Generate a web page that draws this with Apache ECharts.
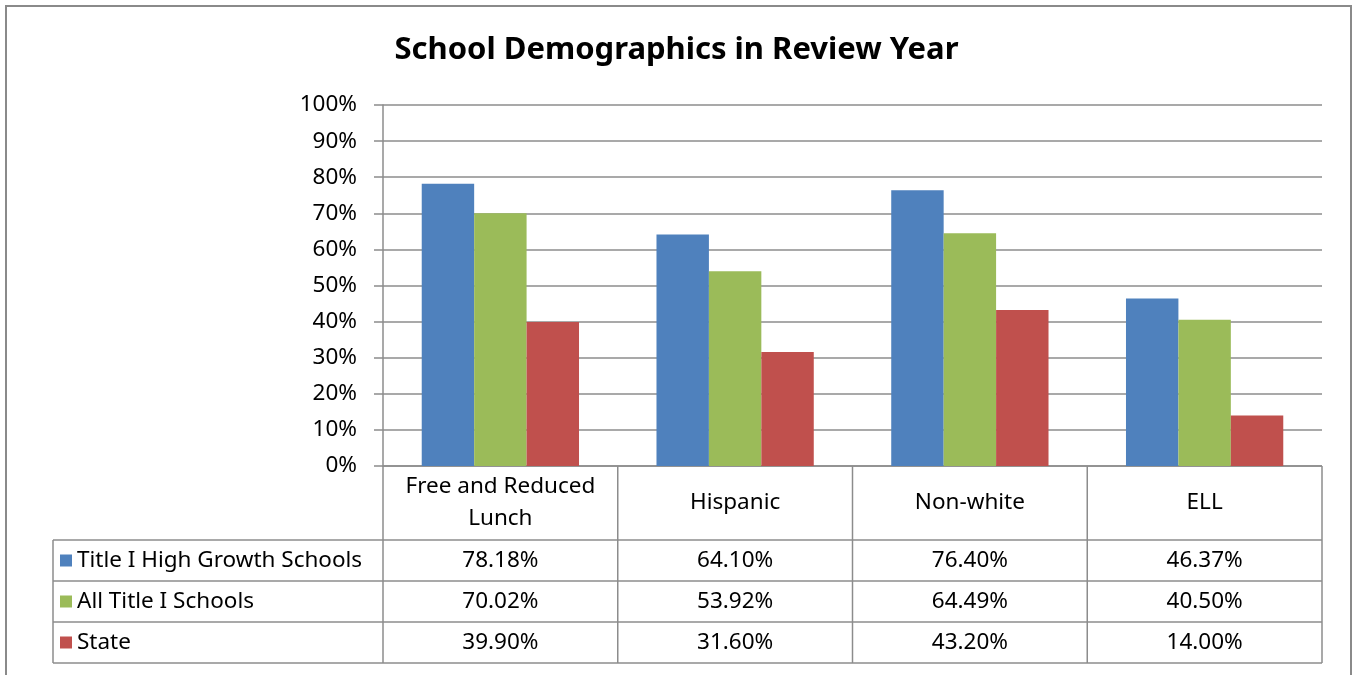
<!DOCTYPE html>
<html><head><meta charset="utf-8">
<script src="https://cdn.jsdelivr.net/npm/echarts@6/dist/echarts.min.js"></script>
<style>html,body{margin:0;padding:0;background:#fff}#c{width:1353px;height:675px}</style>
</head><body><div id="c"></div>
<script>
const categories = ['Free and Reduced\nLunch', 'Hispanic', 'Non-white', 'ELL'];
const seriesNames = ['Title I High Growth Schools', 'All Title I Schools', 'State'];
const highGrowth = [78.18, 64.10, 76.40, 46.37];
const allTitleI = [70.02, 53.92, 64.49, 40.50];
const state = [39.90, 31.60, 43.20, 14.00];
const yTicks = [0, 10, 20, 30, 40, 50, 60, 70, 80, 90, 100];
const colors = ['#4F81BD', '#9BBB59', '#C0504D'];

const FONT = '"Noto Sans", sans-serif';
const FS = 22.5;
const G = {left: 383, top: 105, width: 939, height: 361};
const tableLeft = 53;
const headerH = 74, rowH = 41;
const lineColor = '#8c8c8c';
const seriesData = [highGrowth, allTitleI, state];

const chart = echarts.init(document.getElementById('c'), null, {renderer: 'canvas'});

function buildTable() {
  const els = [];
  const bandW = G.width / categories.length;
  const bottom = G.top + G.height;
  const rowsTop = bottom + headerH;
  const tableBottom = rowsTop + rowH * seriesNames.length;
  const right = G.left + G.width;
  for (let r = 0; r <= seriesNames.length; r++) {
    const y = rowsTop + r * rowH;
    els.push({type: 'line', shape: {x1: tableLeft, y1: y, x2: right, y2: y}, style: {stroke: lineColor, lineWidth: 1.5}});
  }
  els.push({type: 'line', shape: {x1: G.left, y1: bottom, x2: right, y2: bottom}, style: {stroke: lineColor, lineWidth: 1.5}});
  els.push({type: 'line', shape: {x1: tableLeft, y1: rowsTop, x2: tableLeft, y2: tableBottom}, style: {stroke: lineColor, lineWidth: 1.5}});
  for (let c = 0; c <= categories.length; c++) {
    const x = G.left + c * bandW;
    els.push({type: 'line', shape: {x1: x, y1: bottom, x2: x, y2: tableBottom}, style: {stroke: lineColor, lineWidth: 1.5}});
  }
  seriesNames.forEach((name, r) => {
    const cy = rowsTop + r * rowH + rowH / 2;
    els.push({type: 'rect', shape: {x: 60, y: cy - 6, width: 12, height: 12}, style: {fill: colors[r]}});
    els.push({type: 'text', x: 77, y: cy, style: {text: name, font: FS + 'px ' + FONT, fill: '#000', verticalAlign: 'middle', textAlign: 'left'}});
    seriesData[r].forEach((v, c) => {
      els.push({type: 'text', x: G.left + c * bandW + bandW / 2, y: cy, style: {text: v.toFixed(2) + '%', font: FS + 'px ' + FONT, fill: '#000', verticalAlign: 'middle', textAlign: 'center'}});
    });
  });
  els.push({type: 'rect', shape: {x: 6, y: 6, width: 1345, height: 700}, style: {fill: null, stroke: '#8a8a8a', lineWidth: 2}});
  return els;
}

chart.setOption({
  animation: false,
  backgroundColor: '#fff',
  title: {
    text: 'School Demographics in Review Year',
    left: 'center', top: 30,
    textStyle: {fontFamily: FONT, fontWeight: 'bold', fontSize: 31, color: '#000'}
  },
  grid: {left: G.left, top: G.top, width: G.width, height: G.height, containLabel: false},
  xAxis: {
    type: 'category',
    data: categories,
    axisLine: {show: false},
    axisTick: {show: false},
    axisLabel: {
      interval: 0, hideOverlap: false,
      margin: 37, verticalAlign: 'middle', lineHeight: 32,
      fontFamily: FONT, fontSize: FS, color: '#000'
    }
  },
  yAxis: {
    type: 'value', min: 0, max: 100, interval: 10,
    axisLine: {show: true, lineStyle: {color: lineColor, width: 1.5}},
    axisTick: {show: true, length: 9, lineStyle: {color: lineColor, width: 1.5}},
    splitLine: {show: true, lineStyle: {color: lineColor, width: 1.5}},
    axisLabel: {
      margin: 26, fontFamily: FONT, fontSize: FS, color: '#000',
      formatter: v => yTicks.includes(v) ? v + '%' : ''
    }
  },
  series: seriesNames.map((name, i) => ({
    name, type: 'bar', data: seriesData[i],
    barGap: '0%', barCategoryGap: '33%',
    itemStyle: {color: colors[i]}
  })),
  graphic: buildTable()
});
</script></body></html>
